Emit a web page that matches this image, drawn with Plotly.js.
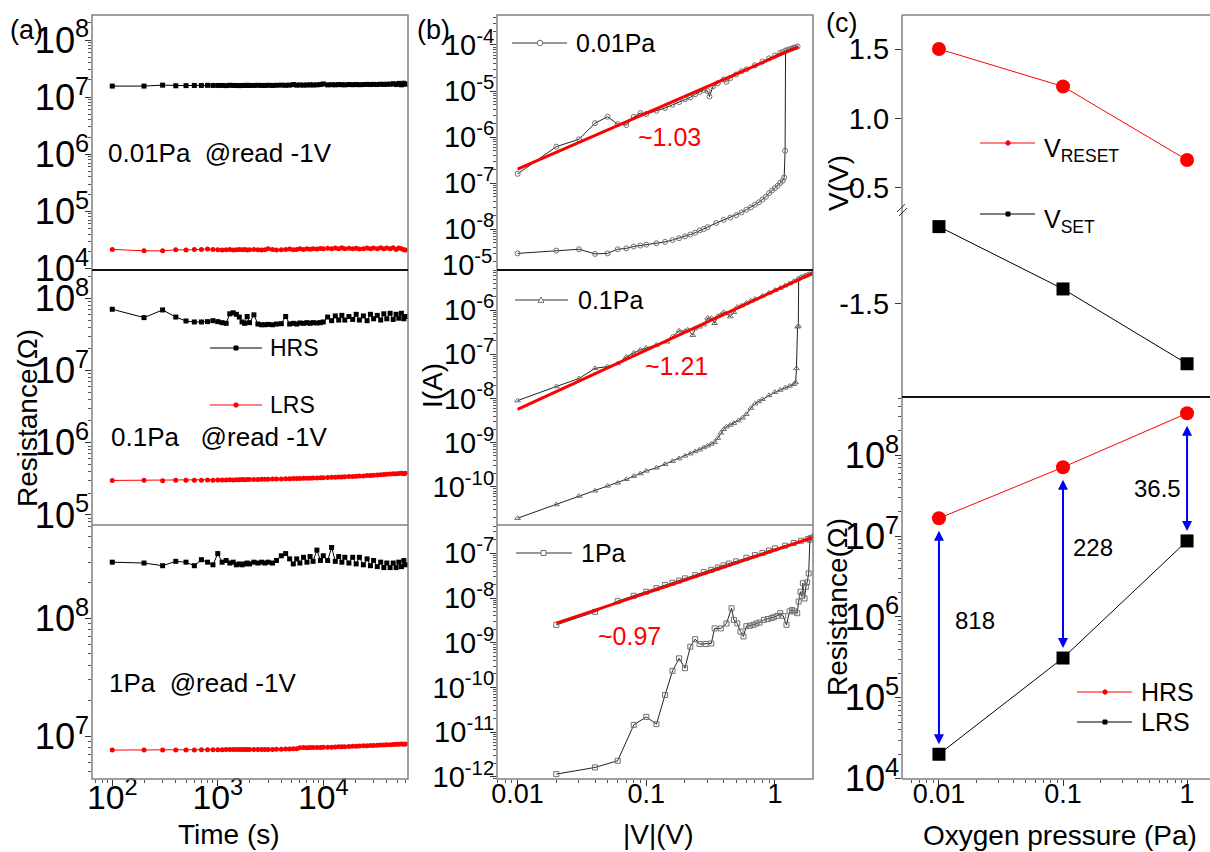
<!DOCTYPE html>
<html><head><meta charset="utf-8">
<script src="https://cdn.plot.ly/plotly-3.0.1.min.js"></script>
<style>html,body{margin:0;padding:0;background:#fff;}#chart{width:1210px;height:852px;}</style>
</head><body><div id="chart"></div>
<script>
// ===== DATA =====
// (a) retention: time (s) and resistance (Ohm)
const timeA = [100,200,300,400,500,600,700,800,900,1000,
 1100,1200,1300,1400,1500,1600,1700,1800,1900,2000,
 2200,2400,2600,2800,3000,
 3300,3600,
 4000,4400,4800,5200,5600,6000,
 6500,7000,7500,8000,
 8700,9400,10000,
 11000,12000,13000,14000,15000,16000,
 17500,19000,20500,22000,
 24000,26000,28000,30000,
 32500,35000,37500,40000,
 43000,46000,49000,52000,55000,58000,60000];

const hrs001 = [1.56e7,1.56e7,1.62e7,1.58e7,1.59e7,1.60e7,1.60e7,1.61e7,1.60e7,1.60e7,
 1.60e7,1.59e7,1.61e7,1.60e7,1.60e7,1.59e7,1.60e7,1.60e7,1.61e7,1.60e7,
 1.60e7,1.61e7,1.60e7,1.60e7,1.61e7,
 1.60e7,1.61e7,
 1.62e7,1.61e7,1.62e7,1.66e7,1.62e7,1.63e7,
 1.62e7,1.63e7,1.64e7,1.63e7,
 1.64e7,1.66e7,1.70e7,
 1.64e7,1.65e7,1.64e7,1.66e7,1.65e7,1.64e7,
 1.66e7,1.65e7,1.66e7,1.65e7,
 1.66e7,1.67e7,1.66e7,1.67e7,
 1.66e7,1.68e7,1.67e7,1.68e7,
 1.68e7,1.72e7,1.66e7,1.74e7,1.64e7,1.75e7,1.68e7];
const lrs001 = [2.15e4,2.03e4,2.03e4,2.12e4,2.10e4,2.15e4,2.15e4,2.18e4,2.15e4,2.12e4,
 2.10e4,2.12e4,2.15e4,2.10e4,2.13e4,2.15e4,2.12e4,2.14e4,2.10e4,2.13e4,
 2.15e4,2.12e4,2.10e4,2.13e4,2.20e4,
 2.15e4,2.10e4,
 2.12e4,2.15e4,2.18e4,2.13e4,2.15e4,2.20e4,
 2.15e4,2.20e4,2.17e4,2.22e4,
 2.18e4,2.24e4,2.20e4,
 2.25e4,2.20e4,2.28e4,2.22e4,2.30e4,2.20e4,
 2.26e4,2.20e4,2.25e4,2.18e4,
 2.22e4,2.27e4,2.20e4,2.28e4,
 2.22e4,2.30e4,2.20e4,2.28e4,
 2.20e4,2.30e4,2.15e4,2.28e4,2.20e4,2.12e4,2.10e4];

const hrs01 = [7.05e7,5.4e7,6.9e7,5.5e7,4.85e7,4.7e7,4.7e7,4.75e7,4.9e7,4.75e7,
 4.6e7,4.5e7,6.1e7,6.3e7,6.0e7,5.5e7,4.7e7,4.5e7,5.6e7,4.6e7,
 5.9e7,4.4e7,4.3e7,4.3e7,4.35e7,
 4.3e7,4.4e7,
 4.45e7,5.6e7,4.4e7,4.5e7,4.4e7,4.55e7,
 4.5e7,4.6e7,4.5e7,4.6e7,
 4.55e7,4.6e7,4.7e7,
 5.5e7,4.9e7,5.7e7,5.0e7,5.8e7,5.0e7,
 5.6e7,5.1e7,6.0e7,5.0e7,
 5.7e7,4.9e7,6.0e7,5.2e7,
 5.8e7,5.0e7,6.1e7,5.2e7,
 6.2e7,5.1e7,6.0e7,5.3e7,6.2e7,5.2e7,5.6e7];
const lrs01 = [3.00e5,3.02e5,2.98e5,3.02e5,3.02e5,3.03e5,3.02e5,3.04e5,3.03e5,3.05e5,
 3.04e5,3.05e5,3.06e5,3.05e5,3.07e5,3.06e5,3.08e5,3.07e5,3.08e5,3.09e5,
 3.10e5,3.10e5,3.11e5,3.12e5,3.12e5,
 3.13e5,3.14e5,
 3.15e5,3.16e5,3.17e5,3.18e5,3.19e5,3.20e5,
 3.21e5,3.22e5,3.23e5,3.24e5,
 3.25e5,3.26e5,3.28e5,
 3.30e5,3.31e5,3.33e5,3.34e5,3.36e5,3.37e5,
 3.39e5,3.41e5,3.43e5,3.45e5,
 3.47e5,3.50e5,3.52e5,3.55e5,
 3.57e5,3.60e5,3.62e5,3.65e5,
 3.68e5,3.70e5,3.72e5,3.75e5,3.78e5,3.72e5,3.76e5];

const hrs1 = [3.0e8,2.95e8,2.8e8,3.05e8,3.0e8,2.8e8,3.15e8,3.0e8,2.85e8,3.55e8,
 3.0e8,3.1e8,2.95e8,3.0e8,2.85e8,2.9e8,2.85e8,2.9e8,2.95e8,2.9e8,
 3.0e8,2.95e8,3.0e8,2.95e8,3.0e8,
 2.95e8,3.1e8,
 3.4e8,3.55e8,3.2e8,2.9e8,3.2e8,2.95e8,
 3.3e8,3.0e8,3.35e8,3.05e8,
 3.8e8,3.1e8,3.4e8,
 3.1e8,4.0e8,3.05e8,3.35e8,3.0e8,3.3e8,
 2.95e8,3.3e8,2.9e8,3.3e8,
 2.85e8,3.2e8,2.8e8,3.1e8,
 2.75e8,3.0e8,2.7e8,2.95e8,
 2.7e8,2.95e8,2.7e8,3.0e8,2.75e8,3.1e8,2.85e8];
const lrs1 = [7.60e6,7.60e6,7.60e6,7.62e6,7.62e6,7.62e6,7.63e6,7.63e6,7.65e6,7.65e6,
 7.66e6,7.67e6,7.67e6,7.68e6,7.70e6,7.68e6,7.70e6,7.70e6,7.68e6,7.70e6,
 7.68e6,7.70e6,7.68e6,7.70e6,7.68e6,
 7.70e6,7.72e6,
 7.72e6,7.75e6,7.75e6,7.78e6,7.80e6,7.95e6,
 7.98e6,7.95e6,7.98e6,8.00e6,
 7.98e6,8.00e6,8.02e6,
 8.05e6,8.05e6,8.08e6,8.10e6,8.12e6,8.12e6,
 8.15e6,8.18e6,8.20e6,8.22e6,
 8.25e6,8.28e6,8.30e6,8.32e6,
 8.35e6,8.38e6,8.40e6,8.42e6,
 8.45e6,8.48e6,8.50e6,8.50e6,8.55e6,8.50e6,8.55e6];

// (b) I-V sweeps |V| (V), I (A): low-current branch then high-current branch
const sweep001LowV = [0.01,0.02,0.03,0.04,0.05,0.06,0.07,0.08,0.09,0.10,0.12,0.14,0.16,0.18,0.20,0.22,0.24,0.26,0.28,0.30,0.35,0.40,0.45,0.50,0.55,0.60,0.65,0.70,0.75,0.80,0.85,0.90,0.95,1.00,1.05,1.10,1.15,1.18,1.20,1.21];
const sweep001LowI = [2.95e-9,3.39e-9,3.63e-9,2.88e-9,2.95e-9,3.63e-9,3.80e-9,4.17e-9,4.37e-9,4.57e-9,4.90e-9,5.25e-9,5.75e-9,6.31e-9,6.92e-9,7.59e-9,8.32e-9,9.33e-9,1.0e-8,1.10e-8,1.35e-8,1.58e-8,1.78e-8,2.0e-8,2.29e-8,2.63e-8,2.95e-8,3.39e-8,3.80e-8,4.37e-8,5.01e-8,6.03e-8,6.92e-8,7.76e-8,8.71e-8,1.0e-7,1.12e-7,1.32e-7,5.01e-7,7.59e-5];
const sweep001HighV = [1.30,1.40,1.50,1.45,1.35,1.25,1.15,1.10,1.00,0.90,0.80,0.70,0.60,0.55,0.50,0.45,0.42,0.40,0.36,0.33,0.31,0.30,0.28,0.26,0.24,0.22,0.20,0.18,0.16,0.14,0.12,0.10,0.09,0.08,0.07,0.06,0.05,0.04,0.03,0.02,0.01];
const sweep001HighI = [8.13e-5,8.71e-5,9.33e-5,8.91e-5,8.32e-5,7.76e-5,7.08e-5,6.76e-5,5.89e-5,5.13e-5,4.37e-5,3.63e-5,2.95e-5,2.69e-5,2.29e-5,1.91e-5,1.58e-5,1.78e-5,1.48e-5,1.26e-5,7.59e-6,1.0e-5,1.05e-5,9.55e-6,8.51e-6,7.24e-6,6.61e-6,5.75e-6,5.01e-6,4.27e-6,3.72e-6,3.16e-6,3.31e-6,2.75e-6,1.82e-6,1.91e-6,2.75e-6,2.0e-6,8.91e-7,6.17e-7,1.58e-7];

const sweep01LowV = [0.01,0.02,0.03,0.04,0.05,0.06,0.07,0.08,0.09,0.10,0.12,0.14,0.16,0.18,0.20,0.22,0.24,0.26,0.28,0.30,0.32,0.34,0.36,0.38,0.40,0.42,0.45,0.48,0.52,0.56,0.60,0.65,0.70,0.75,0.80,0.90,1.00,1.10,1.20,1.30,1.40,1.45,1.47,1.50,1.52,1.53];
const sweep01LowI = [1.95e-11,3.98e-11,6.17e-11,8.13e-11,1.05e-10,1.23e-10,1.48e-10,1.74e-10,2.0e-10,2.29e-10,2.69e-10,3.24e-10,3.80e-10,4.37e-10,5.01e-10,5.62e-10,6.31e-10,6.92e-10,7.76e-10,8.51e-10,9.33e-10,1.02e-9,1.26e-9,1.66e-9,2.0e-9,2.29e-9,2.51e-9,2.75e-9,3.16e-9,3.63e-9,4.37e-9,6.03e-9,7.59e-9,8.51e-9,9.55e-9,1.17e-8,1.38e-8,1.55e-8,1.74e-8,1.91e-8,2.09e-8,2.29e-8,4.79e-8,4.17e-7,4.37e-7,5.25e-6];
const sweep01HighV = [1.60,1.70,1.80,1.95,1.85,1.75,1.65,1.50,1.40,1.30,1.20,1.10,1.00,0.90,0.80,0.70,0.65,0.60,0.55,0.51,0.48,0.45,0.42,0.40,0.38,0.36,0.34,0.32,0.30,0.28,0.26,0.24,0.23,0.21,0.20,0.18,0.16,0.145,0.12,0.10,0.09,0.08,0.07,0.06,0.05,0.04,0.03,0.02,0.01];
const sweep01HighI = [5.50e-6,5.89e-6,6.31e-6,6.92e-6,6.46e-6,6.03e-6,5.62e-6,4.90e-6,4.47e-6,3.98e-6,3.55e-6,3.16e-6,2.82e-6,2.45e-6,2.09e-6,1.78e-6,1.62e-6,1.45e-6,1.26e-6,1.17e-6,8.91e-7,7.08e-7,8.32e-7,8.91e-7,7.76e-7,7.24e-7,5.01e-7,6.61e-7,6.61e-7,4.68e-7,4.17e-7,3.80e-7,2.69e-7,3.55e-7,3.31e-7,3.39e-7,2.51e-7,1.91e-7,1.62e-7,1.38e-7,1.26e-7,1.07e-7,8.71e-8,6.17e-8,5.25e-8,4.79e-8,2.82e-8,1.86e-8,8.91e-9];

const sweep1LowV = [0.02,0.04,0.06,0.08,0.10,0.12,0.14,0.16,0.18,0.20,0.22,0.24,0.26,0.29,0.32,0.34,0.38,0.42,0.46,0.48,0.51,0.54,0.57,0.60,0.64,0.68,0.72,0.76,0.82,0.88,0.94,0.98,1.04,1.10,1.16,1.23,1.30,1.36,1.42,1.49,1.53,1.58,1.62,1.65,1.70,1.74,1.78,1.83,1.87];
const sweep1LowI = [1.15e-12,1.62e-12,2.29e-12,1.45e-11,2.19e-11,1.51e-11,6.76e-11,2.34e-10,4.47e-10,2.69e-10,8.13e-10,1.20e-9,9.33e-10,9.33e-10,9.6e-10,2.09e-9,2.09e-9,2.69e-9,5.89e-9,3.24e-9,2.69e-9,1.78e-9,1.38e-9,2.34e-9,2.40e-9,2.51e-9,2.69e-9,2.82e-9,3.24e-9,3.39e-9,3.55e-9,3.72e-9,3.98e-9,4.57e-9,3.98e-9,2.51e-9,5.01e-9,5.37e-9,5.01e-9,4.57e-9,8.32e-9,1.38e-8,1.12e-8,2.14e-8,9.77e-9,1.78e-8,2.24e-8,3.55e-8,2.0e-7];
const sweep1HighV = [2.0,1.9,1.8,1.6,1.4,1.2,1.0,0.9,0.8,0.7,0.6,0.5,0.44,0.4,0.36,0.32,0.28,0.24,0.2,0.18,0.16,0.14,0.12,0.10,0.08,0.06,0.04,0.02];
const sweep1HighI = [2.34e-7,2.19e-7,2.09e-7,1.91e-7,1.70e-7,1.48e-7,1.29e-7,1.15e-7,1.02e-7,9.12e-8,7.94e-8,6.61e-8,5.89e-8,5.37e-8,4.79e-8,4.27e-8,3.80e-8,3.24e-8,2.75e-8,2.45e-8,2.19e-8,1.95e-8,1.66e-8,1.38e-8,1.12e-8,8.51e-9,4.90e-9,2.51e-9];

// linear fits (end points)
const fit001V = [0.01, 1.52], fit001I = [2.0e-7, 9.1e-5];
const fit01V = [0.01, 2.0], fit01I = [5.62e-9, 6.92e-6];
const fit1V = [0.02, 2.0], fit1I = [2.75e-9, 2.29e-7];
const fitLabels = ['~1.03', '~1.21', '~0.97'];

// current tick labels (b)
const currentTickVals = [1e-12, 1e-11, 1e-10, 1e-9, 1e-8, 1e-7, 1e-6, 1e-5, 1e-4];
const currentTickText = ['10<sup>-12</sup>', '10<sup>-11</sup>', '10<sup>-10</sup>', '10<sup>-9</sup>', '10<sup>-8</sup>',
  '10<sup>-7</sup>', '10<sup>-6</sup>', '10<sup>-5</sup>', '10<sup>-4</sup>'];

// (c) vs oxygen pressure
const pressure = [0.01, 0.1, 1];
const vReset = [1.50, 1.23, 0.70];
const vSet = [-1.13, -1.43, -1.79];
const hrsP = [1.66e7, 7.1e7, 3.3e8];
const lrsP = [2.0e4, 3.1e5, 8.7e6];
const ratioLabels = ['818', '228', '36.5'];

// ===== DRAWING =====
const W = 1210, H = 852;
const fx = p => p / W;
const fy = p => 1 - p / H;
const FONT = '"Liberation Sans", Arial, sans-serif';
const RED = '#ff0000', BLUE = '#0000ff', FRAME = '#808080';
const YTICKFONT = {family: FONT, size: 29, color: '#000'};
const XTICKFONT = {family: FONT, size: 27, color: '#000'};

const traces = [];
function tsTrace(y, color, symbol, xa, ya) {
  return {type:'scatter', mode:'lines+markers', x: timeA, y: y, xaxis: xa, yaxis: ya,
    line:{color: color, width: 1}, marker:{symbol: symbol, size: 5, color: color}, hoverinfo:'skip'};
}
traces.push(tsTrace(hrs001, '#000', 'square', 'x', 'y'));
traces.push(tsTrace(lrs001, RED, 'circle', 'x', 'y'));
traces.push(tsTrace(hrs01, '#000', 'square', 'x2', 'y2'));
traces.push(tsTrace(lrs01, RED, 'circle', 'x2', 'y2'));
traces.push(tsTrace(hrs1, '#000', 'square', 'x3', 'y3'));
traces.push(tsTrace(lrs1, RED, 'circle', 'x3', 'y3'));

function ivTrace(v, i, symbol, xa, ya) {
  return {type:'scatter', mode:'lines+markers', x: v, y: i, xaxis: xa, yaxis: ya,
    line:{color:'#222', width:1},
    marker:{symbol: symbol, size:5, color:'#707070', line:{width:1, color:'#707070'}}, hoverinfo:'skip'};
}
function fitTrace(v, i, xa, ya) {
  return {type:'scatter', mode:'lines', x: v, y: i, xaxis: xa, yaxis: ya, line:{color: RED, width:3}, hoverinfo:'skip'};
}
traces.push(ivTrace(sweep001LowV.concat(sweep001HighV), sweep001LowI.concat(sweep001HighI), 'circle-open', 'x4', 'y4'));
traces.push(fitTrace(fit001V, fit001I, 'x4', 'y4'));
traces.push(ivTrace(sweep01LowV.concat(sweep01HighV), sweep01LowI.concat(sweep01HighI), 'triangle-up-open', 'x5', 'y5'));
traces.push(fitTrace(fit01V, fit01I, 'x5', 'y5'));
traces.push(ivTrace(sweep1LowV.concat(sweep1HighV), sweep1LowI.concat(sweep1HighI), 'square-open', 'x6', 'y6'));
traces.push(fitTrace(fit1V, fit1I, 'x6', 'y6'));

traces.push({type:'scatter', mode:'lines+markers', x: pressure, y: vReset, xaxis:'x7', yaxis:'y7',
  line:{color: RED, width:1}, marker:{symbol:'circle', size:14, color: RED}, hoverinfo:'skip'});
traces.push({type:'scatter', mode:'lines+markers', x: pressure, y: vSet, xaxis:'x7', yaxis:'y8',
  line:{color:'#000', width:1}, marker:{symbol:'square', size:13, color:'#000'}, hoverinfo:'skip'});
traces.push({type:'scatter', mode:'lines+markers', x: pressure, y: hrsP, xaxis:'x8', yaxis:'y9',
  line:{color: RED, width:1}, marker:{symbol:'circle', size:14, color: RED}, hoverinfo:'skip'});
traces.push({type:'scatter', mode:'lines+markers', x: pressure, y: lrsP, xaxis:'x8', yaxis:'y9',
  line:{color:'#000', width:1}, marker:{symbol:'square', size:13, color:'#000'}, hoverinfo:'skip'});

// axes
const MINOR = {ticks:'outside', ticklen:3, tickwidth:1, tickcolor:'#555', tickmode:'linear', dtick:'D1', showgrid:false};
const Y_STANDOFF = -10;
function logAxis(dom, range, anchor, extra) {
  return Object.assign({type:'log', domain: dom, range: range, anchor: anchor, showgrid:false, zeroline:false,
    showline:false, ticks:'outside', ticklen:6, tickwidth:1, tickcolor:'#333', dtick:1,
    exponentformat:'power', tickfont: YTICKFONT, minor: MINOR}, extra || {});
}
function hiddenX(dom, range, anchor) {
  return {type:'log', domain: dom, range: range, anchor: anchor, visible:false, showgrid:false, zeroline:false};
}
const yOpt = {ticklabelstandoff: Y_STANDOFF};
const yOptI = {ticklabelstandoff: Y_STANDOFF, tickmode:'array', tickvals: currentTickVals, ticktext: currentTickText};
const xOpt = {ticklabelstandoff: -16, exponentformat:'power', tickfont: XTICKFONT};
const xOptN = {ticklabelstandoff: -15, exponentformat:'none', tickfont: XTICKFONT};
const domA = [fx(92), fx(408)], domB = [fx(497), fx(813)], domC = [fx(902), 1];
const rA = [1.808, 4.803], rB = [-2.160, 0.296], rC = [-2.298, 0.185];

const layout = {
  width: W, height: H, margin:{l:0, r:0, t:0, b:0}, paper_bgcolor:'#fff', plot_bgcolor:'#fff',
  showlegend:false, hovermode:false,
  xaxis: hiddenX(domA, rA, 'y'),
  xaxis2: hiddenX(domA, rA, 'y2'),
  xaxis3: logAxis(domA, rA, 'y3', xOpt),
  yaxis: logAxis([fy(270), fy(15)], [3.972, 8.438], 'x', yOpt),
  yaxis2: logAxis([fy(525), fy(270)], [4.86, 8.392], 'x2', yOpt),
  yaxis3: logAxis([fy(779), fy(525)], [6.635, 8.793], 'x3', yOpt),
  xaxis4: hiddenX(domB, rB, 'y4'),
  xaxis5: hiddenX(domB, rB, 'y5'),
  xaxis6: logAxis(domB, rB, 'y6', xOptN),
  yaxis4: logAxis([fy(270), fy(15)], [-8.891, -3.348], 'x4', yOptI),
  yaxis5: logAxis([fy(525), fy(270)], [-10.864, -5.095], 'x5', yOptI),
  yaxis6: logAxis([fy(779), fy(525)], [-12.049, -6.367], 'x6', yOptI),
  xaxis7: hiddenX(domC, rC, 'y8'),
  xaxis8: logAxis(domC, rC, 'y9', xOptN),
  yaxis7: {type:'linear', domain:[fy(210), fy(15)], range:[0.34, 1.745], anchor:'x7', showgrid:false, zeroline:false,
    showline:false, ticks:'outside', ticklen:6, tickwidth:1, tickcolor:'#333', tickvals:[0.5, 1.0, 1.5],
    ticktext:['0.5', '1.0', '1.5'], tickfont: YTICKFONT},
  yaxis8: {type:'linear', domain:[fy(397), fy(210)], range:[-1.95, -1.05], anchor:'x7', showgrid:false, zeroline:false,
    showline:false, ticks:'outside', ticklen:6, tickwidth:1, tickcolor:'#333', tickvals:[-1.5],
    ticktext:['-1.5'], tickfont: YTICKFONT},
  yaxis9: logAxis([fy(779), fy(397)], [3.995, 8.72], 'x8', yOpt)
};

// shapes: frames, dividers, legend samples
const shapes = [];
function seg(x0, y0, x1, y1, color, w) {
  return {type:'line', xref:'paper', yref:'paper', x0: fx(x0), y0: fy(y0), x1: fx(x1), y1: fy(y1),
    line:{color: color, width: w}};
}
function box(x0, y0, x1, y1, color, w, fill) {
  return {type:'rect', xref:'paper', yref:'paper', x0: fx(x0), y0: fy(y0), x1: fx(x1), y1: fy(y1),
    line:{color: color, width: w}, fillcolor: fill || 'rgba(0,0,0,0)'};
}
function dot(cx, cy, r, color, fill) {
  return {type:'circle', xref:'paper', yref:'paper', x0: fx(cx - r), y0: fy(cy + r), x1: fx(cx + r), y1: fy(cy - r),
    line:{color: color, width: 1}, fillcolor: fill};
}
function triangle(cx, cy, s, color) {
  return {type:'path', xref:'paper', yref:'paper',
    path: 'M' + fx(cx - s) + ',' + fy(cy + s * 0.8) + ' L' + fx(cx + s) + ',' + fy(cy + s * 0.8) + ' L' + fx(cx) + ',' + fy(cy - s) + ' Z',
    line:{color: color, width: 1}, fillcolor:'#fff'};
}
// panel (a) & (b) frames
[[92, 408], [497, 813]].forEach(function (p) {
  shapes.push(box(p[0], 15, p[1], 779, FRAME, 1.5));
  shapes.push(seg(p[0], 270, p[1], 270, '#111', 2));
  shapes.push(seg(p[0], 525, p[1], 525, FRAME, 1.5));
});
// panel (c) frame
shapes.push(seg(902, 15, 902, 779, FRAME, 1.5));
shapes.push(seg(902, 15, 1212, 15, FRAME, 1.5));
shapes.push(seg(902, 779, 1212, 779, FRAME, 1.5));
shapes.push(seg(902, 397, 1212, 397, '#111', 2));
// axis break marks
shapes.push(seg(897, 212, 905, 204, '#333', 1));
shapes.push(seg(899, 216, 907, 208, '#333', 1));
// legend samples (a)
shapes.push(seg(210, 348, 262, 348, '#000', 1));
shapes.push(box(234, 346, 238, 350, '#000', 1, '#000'));
shapes.push(seg(210, 405, 262, 405, RED, 1));
shapes.push(dot(236, 405, 2.2, RED, RED));
// legend samples (b)
shapes.push(seg(512, 43, 567, 43, '#333', 1));
shapes.push(dot(540, 43, 2.8, '#707070', '#fff'));
shapes.push(seg(515, 300, 568, 300, '#333', 1));
shapes.push(triangle(541, 300, 3, '#707070'));
shapes.push(seg(516, 553, 572, 553, '#333', 1));
shapes.push(box(541, 550.5, 546, 555.5, '#707070', 1, '#fff'));
// legend samples (c)
shapes.push(seg(980, 143, 1035, 143, RED, 1));
shapes.push(dot(1008, 143, 2.2, RED, RED));
shapes.push(seg(980, 214, 1035, 214, '#000', 1));
shapes.push(box(1006, 212, 1010, 216, '#000', 1, '#000'));
shapes.push(seg(1077, 692, 1132, 692, RED, 1));
shapes.push(dot(1105, 692, 2.2, RED, RED));
shapes.push(seg(1077, 722, 1132, 722, '#000', 1));
shapes.push(box(1103, 720, 1107, 724, '#000', 1, '#000'));
layout.shapes = shapes;

// annotations
const ann = [];
function txt(text, x, y, opt) {
  const o = opt || {};
  return {text: text, x: fx(x), y: fy(y), xref:'paper', yref:'paper', showarrow:false,
    xanchor: o.xanchor || 'center', yanchor: o.yanchor || 'middle', textangle: o.angle || 0,
    font:{family: FONT, size: o.size || 27, color: o.color || '#000'}};
}
ann.push(txt('(a)', 26, 30, {size:27}));
ann.push(txt('(b)', 433, 30, {size:27}));
ann.push(txt('(c)', 841, 23, {size:27}));
ann.push(txt('Resistance(Ω)', 27, 418, {angle:-90, size:28}));
ann.push(txt('Time (s)', 229, 834, {size:28}));
ann.push(txt('I(A)', 432, 386, {angle:-90, size:28}));
ann.push(txt('|V|(V)', 658, 834, {size:28}));
ann.push(txt('V(V)', 838, 183, {angle:-90, size:28}));
ann.push(txt('Resistance(Ω)', 837, 607, {angle:-90, size:28}));
ann.push(txt('Oxygen pressure (Pa)', 1060, 835, {size:28}));
ann.push(txt('10<sup>-5</sup>', 494, 263, {xanchor:'right', size:29}));
// panel (a) notes
ann.push(txt('0.01Pa\u00a0\u00a0@read -1V', 106, 153, {xanchor:'left', size:26}));
ann.push(txt('0.1Pa\u00a0\u00a0\u00a0@read -1V', 109, 437, {xanchor:'left', size:26}));
ann.push(txt('1Pa\u00a0\u00a0@read -1V', 107, 683, {xanchor:'left', size:26}));
ann.push(txt('HRS', 268, 348, {xanchor:'left', size:23}));
ann.push(txt('LRS', 268, 405, {xanchor:'left', size:23}));
// panel (b) notes
ann.push(txt('0.01Pa', 574, 43, {xanchor:'left', size:25}));
ann.push(txt('0.1Pa', 576, 300, {xanchor:'left', size:25}));
ann.push(txt('1Pa', 579, 553, {xanchor:'left', size:25}));
ann.push(txt(fitLabels[0], 669, 137, {size:25, color: RED}));
ann.push(txt(fitLabels[1], 676, 366, {size:25, color: RED}));
ann.push(txt(fitLabels[2], 629, 636, {size:25, color: RED}));
// panel (c) notes
ann.push(txt('V<sub>RESET</sub>', 1042, 150, {xanchor:'left', size:25}));
ann.push(txt('V<sub>SET</sub>', 1042, 221, {xanchor:'left', size:25}));
ann.push(txt('HRS', 1139, 692, {xanchor:'left', size:25}));
ann.push(txt('LRS', 1139, 722, {xanchor:'left', size:25}));
ann.push(txt(ratioLabels[0], 975, 620, {size:24}));
ann.push(txt(ratioLabels[1], 1093, 547, {size:24}));
ann.push(txt(ratioLabels[2], 1157, 488, {size:24}));
// double arrows HRS <-> LRS
pressure.forEach(function (p, k) {
  ann.push({x: Math.log10(p), y: Math.log10(lrsP[k]), ax: Math.log10(p), ay: Math.log10(hrsP[k]),
    xref:'x8', yref:'y9', axref:'x8', ayref:'y9', text:'', showarrow:true,
    arrowhead:2, startarrowhead:2, arrowside:'end+start', arrowsize:1, startarrowsize:1,
    arrowwidth:2, arrowcolor: BLUE, standoff:10, startstandoff:11});
});
layout.annotations = ann;

Plotly.newPlot('chart', traces, layout, {staticPlot:true, displayModeBar:false});
</script>
</body></html>
